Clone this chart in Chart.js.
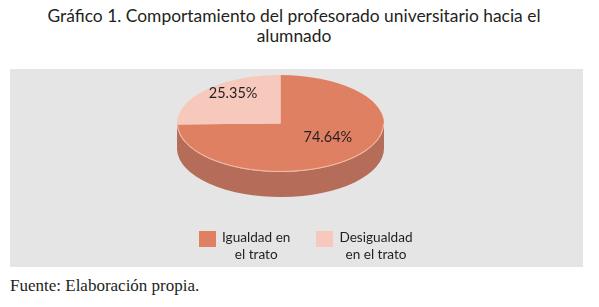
<!DOCTYPE html>
<html><head><meta charset="utf-8">
<script src="https://cdn.jsdelivr.net/npm/chart.js@4.4.1/dist/chart.umd.min.js"></script>
<style>
html,body{margin:0;padding:0;background:#fff;width:599px;height:307px;overflow:hidden;}
#title{position:absolute;left:0;top:6px;width:588px;text-align:center;font-family:Lato,sans-serif;font-size:17.4px;line-height:20px;color:#231f20;}
#panel{position:absolute;left:10px;top:69px;width:573px;height:198px;background:#e4e5e4;}
#panel canvas{position:absolute;left:0;top:0;}
#legend{position:absolute;left:189px;top:160px;display:flex;font-family:Lato,sans-serif;font-size:13.6px;line-height:17px;color:#231f20;}
.item{display:flex;align-items:flex-start;}
.sw{width:17px;height:16px;margin-top:2px;margin-right:6px;}
.txt{text-align:center;}
#footer{position:absolute;left:10px;top:276px;font-family:'Liberation Serif',serif;font-size:17px;color:#231f20;}
</style></head>
<body>
<div id="title"></div>
<div id="panel"><canvas id="c" width="573" height="198"></canvas>
<div id="legend"></div></div>
<div id="footer">Fuente: Elaboración propia.</div>
<script>
const titleLines = ['Gráfico 1. Comportamiento del profesorado universitario hacia el', 'alumnado'];
const categories = ['Igualdad en el trato', 'Desigualdad en el trato'];
const legendLines = [['Igualdad en', 'el trato'], ['Desigualdad', 'en el trato']];
const values = [74.64, 25.35];
const valueLabels = ['74.64%', '25.35%'];

const topColors = ['#e08063', '#f7c9bc'];
const sideColors = ['#b56c58', '#c9a195'];
const squash = 48.5 / 103.5;
const depth = 25;

document.getElementById('title').innerHTML = titleLines.join('<br>');
const leg = document.getElementById('legend');
categories.forEach((cat, i) => {
  const it = document.createElement('div');
  it.className = 'item';
  it.style.marginRight = i === 0 ? '26px' : '0';
  it.innerHTML = '<div class="sw" style="background:' + topColors[i] + '"></div><div class="txt">' + legendLines[i].join('<br>') + '</div>';
  leg.appendChild(it);
});

const pie3d = {
  id: 'pie3d',
  beforeDatasetsDraw(chart) {
    const meta = chart.getDatasetMeta(0);
    const c = chart.ctx;
    const a0 = meta.data[0];
    const cx = a0.x, cy = a0.y, rx = a0.outerRadius, ry = rx * squash;
    meta.data.forEach((arc, i) => {
      const s = Math.max(arc.startAngle, 0), e = Math.min(arc.endAngle, Math.PI);
      if (e <= s) return;
      c.beginPath();
      c.ellipse(cx, cy, rx, ry, 0, s, e);
      c.ellipse(cx, cy + depth, rx, ry, 0, e, s, true);
      c.closePath();
      c.fillStyle = sideColors[i];
      c.fill();
    });
    c.save();
    c.translate(cx, cy); c.scale(1, squash); c.translate(-cx, -cy);
  },
  afterDatasetsDraw(chart) {
    const c = chart.ctx;
    c.restore();
    const meta = chart.getDatasetMeta(0);
    const a0 = meta.data[0];
    const cx = a0.x, cy = a0.y, rx = a0.outerRadius, ry = rx * squash;
    c.save();
    c.beginPath();
    c.ellipse(cx, cy, rx - 0.5, ry - 0.5, 0, 0, Math.PI);
    c.strokeStyle = '#f1bfae';
    c.lineWidth = 1;
    c.stroke();
    c.font = '14.5px Lato, sans-serif';
    c.fillStyle = '#231f20';
    c.textAlign = 'center';
    c.textBaseline = 'middle';
    meta.data.forEach((arc, i) => {
      const m = (arc.startAngle + arc.endAngle) / 2;
      const f = 0.64;
      c.fillText(valueLabels[i], cx + f * rx * Math.cos(m), cy + f * ry * Math.sin(m) - 8);
    });
    c.restore();
  }
};

new Chart(document.getElementById('c'), {
  type: 'pie',
  data: {
    labels: categories,
    datasets: [{ data: values, backgroundColor: topColors, borderWidth: 0, clip: false, radius: 103.5 }]
  },
  options: {
    responsive: false,
    animation: false,
    layout: { padding: { left: 0, right: 32, top: 0, bottom: 89 } },
    plugins: { legend: { display: false }, tooltip: { enabled: false } }
  },
  plugins: [pie3d]
});
</script>
</body></html>
